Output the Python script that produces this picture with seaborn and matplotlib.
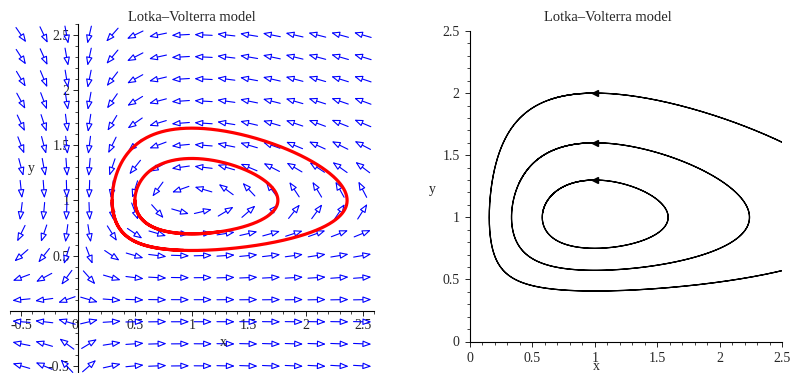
import numpy as np
import pandas as pd
import seaborn as sns
import matplotlib.pyplot as plt
from matplotlib.ticker import MultipleLocator, FuncFormatter

# Lotka-Volterra model  x' = a*x*(1 - y),  y' = c*y*(x - 1)
a = 1.0
c = 0.3

# direction field grid (left panel)
field_x = [-0.5, -0.3, -0.1, 0.1, 0.3, 0.5, 0.7, 0.9, 1.1, 1.3, 1.5, 1.7, 1.9, 2.1, 2.3, 2.5]
field_y = [-0.5, -0.3, -0.1, 0.1, 0.3, 0.5, 0.7, 0.9, 1.1, 1.3, 1.5, 1.7, 1.9, 2.1, 2.3, 2.5]

# starting points of the orbits
left_x0 = [0.5, 0.3]
left_y0 = [1.0, 1.0]
right_x0 = [1.0, 1.0, 1.0]
right_y0 = [1.3, 1.6, 2.0]

tick_labels = {-0.5: '-0.5', 0: '0', 0.5: '0.5', 1: '1', 1.5: '1.5', 2: '2', 2.5: '2.5'}


def rhs(x, y):
    return a * x * (1 - y), c * y * (x - 1)


def orbit(x0, y0, t_end=26.0, dt=0.01):
    xs, ys = [x0], [y0]
    x, y = x0, y0
    for _ in range(int(t_end / dt)):
        k1 = rhs(x, y)
        k2 = rhs(x + dt / 2 * k1[0], y + dt / 2 * k1[1])
        k3 = rhs(x + dt / 2 * k2[0], y + dt / 2 * k2[1])
        k4 = rhs(x + dt * k3[0], y + dt * k3[1])
        x += dt / 6 * (k1[0] + 2 * k2[0] + 2 * k3[0] + k4[0])
        y += dt / 6 * (k1[1] + 2 * k2[1] + 2 * k3[1] + k4[1])
        xs.append(x)
        ys.append(y)
        if x > 4:
            break
    return pd.DataFrame({'x': xs, 'y': ys})


sns.set_theme(style='ticks')
plt.rcParams['font.family'] = ['Liberation Serif', 'DejaVu Serif']
plt.rcParams['axes.unicode_minus'] = False

fmt = FuncFormatter(lambda v, p: tick_labels.get(round(v, 2), ''))

W, H = 791, 373
fig = plt.figure(figsize=(W / 100, H / 100), dpi=100)

# ---- left panel: direction field with two red orbits
ax1 = fig.add_axes([9.7 / W, (H - 376.9) / H, 364.2 / W, 353.0 / H])
ax1.set_xlim(-0.6, 2.6)
ax1.set_ylim(-0.6, 2.6)
sx, sy = 364.2 / 3.2, 353.0 / 3.2   # pixels per data unit
L = 18.0                             # arrow length in pixels
for gx in field_x:
    for gy in field_y:
        u, v = rhs(gx, gy)
        n = np.hypot(u * sx, v * sy)
        dx = u * sx / n * L / sx
        dy = v * sy / n * L / sy
        ax1.annotate('', xy=(gx + dx / 2, gy + dy / 2), xytext=(gx - dx / 2, gy - dy / 2),
                     arrowprops=dict(arrowstyle='-|>,head_length=0.42,head_width=0.16',
                                     color='blue', fc='white', lw=0.8,
                                     shrinkA=0, shrinkB=0), zorder=2)
for x0, y0 in zip(left_x0, left_y0):
    sns.lineplot(data=orbit(x0, y0, 16), x='x', y='y', sort=False, estimator=None,
                 color='red', lw=2.3, ax=ax1, zorder=3)

ax1.spines['left'].set_position(('data', 0))
ax1.spines['bottom'].set_position(('data', 0))
ax1.spines['right'].set_visible(False)
ax1.spines['top'].set_visible(False)
ax1.xaxis.set_major_locator(MultipleLocator(0.5))
ax1.xaxis.set_minor_locator(MultipleLocator(0.1))
ax1.yaxis.set_major_locator(MultipleLocator(0.5))
ax1.yaxis.set_minor_locator(MultipleLocator(0.1))
ax1.xaxis.set_major_formatter(fmt)
ax1.yaxis.set_major_formatter(FuncFormatter(lambda v, p: '' if abs(v) < 1e-9 else tick_labels.get(round(v, 2), '')))
ax1.tick_params(which='major', length=3.5, width=0.7, pad=2.5, labelsize=10, zorder=1)
ax1.tick_params(which='minor', length=2, width=0.6)
for lab in ax1.get_xticklabels():
    if lab.get_text() == '0':
        lab.set_ha('right')
ax1.set_xlabel('')
ax1.set_ylabel('')
ax1.text(1.28, -0.29, 'x', fontsize=10, ha='center', va='center')
ax1.text(-0.41, 1.29, 'y', fontsize=10, ha='center', va='center')
fig.text(192 / W, 1 - 17.5 / H, 'Lotka–Volterra model', fontsize=10.5, ha='center', va='center')

# ---- right panel: phase portrait
ax2 = fig.add_axes([470 / W, (H - 341.5) / H, 312 / W, 310.5 / H])
ax2.set_xlim(0, 2.5)
ax2.set_ylim(0, 2.5)
for x0, y0 in zip(right_x0, right_y0):
    sns.lineplot(data=orbit(x0, y0, 26), x='x', y='y', sort=False, estimator=None,
                 color='black', lw=0.9, ax=ax2)
    ax2.plot([x0], [y0], marker='<', ms=4, color='black', clip_on=False)

ax2.spines['right'].set_visible(False)
ax2.spines['top'].set_visible(False)
ax2.xaxis.set_major_locator(MultipleLocator(0.5))
ax2.xaxis.set_minor_locator(MultipleLocator(0.1))
ax2.yaxis.set_major_locator(MultipleLocator(0.5))
ax2.yaxis.set_minor_locator(MultipleLocator(0.1))
ax2.xaxis.set_major_formatter(fmt)
ax2.yaxis.set_major_formatter(fmt)
ax2.tick_params(which='major', length=3.5, width=0.7, pad=4, labelsize=10)
ax2.tick_params(which='minor', length=2, width=0.6)
ax2.set_xlabel('')
ax2.set_ylabel('')
ax2.text(-0.3, 1.22, 'y', fontsize=10, ha='center', va='center')
fig.text(596 / W, 0.001, 'x', fontsize=10, ha='center', va='bottom')
fig.text(608 / W, 1 - 17.5 / H, 'Lotka–Volterra model', fontsize=10.5, ha='center', va='center')

for ax in (ax1, ax2):
    for s in ax.spines.values():
        s.set_linewidth(0.8)
        s.set_color('black')

fig.savefig('out.png', dpi=100)
